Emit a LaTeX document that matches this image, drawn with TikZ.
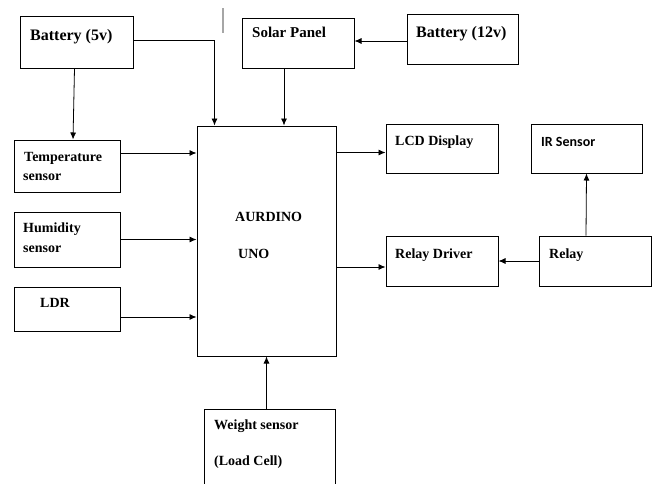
\documentclass[tikz,border=0pt]{standalone}
\usepackage{fontspec}
\setmainfont{Liberation Serif}
\newfontfamily\irfont{Carlito}
\usetikzlibrary{arrows.meta}

\begin{document}
\begin{tikzpicture}[x=1pt,y=-1pt]
  \tikzset{
    blk/.style={draw,line width=1pt,inner sep=0pt},
    lbl/.style={anchor=base west,inner sep=0pt,font=\bfseries\fontsize{14}{16}\selectfont},
    big/.style={lbl,font=\bfseries\fontsize{16}{18}\selectfont},
    arr/.style={line width=0.8pt,-{Latex[length=7pt,width=6pt]}}}
  % \blk{name}{x1}{y1}{x2}{y2}
  \newcommand{\blk}[5]{%
    \pgfmathsetmacro{\bw}{#4-#2}
    \pgfmathsetmacro{\bh}{#5-#3}
    \node[blk,minimum width=\bw pt,minimum height=\bh pt] (#1) at ({(#2+#4)/2},{(#3+#5)/2}) {};}

  \clip (0,0) rectangle (655,483);

  % the blocks
  \foreach \n/\xa/\ya/\xb/\yb in {bat5/20/16/133/68,solar/242/18/354/68,bat12/407/14/518/64,
      temp/14/140/120/192,hum/14/212/120/267,ldr/14/287/120/331,ard/197/126/336/356,
      lcd/386/124/498/173,ir/531/124/642/173,rd/386/236/498/286,relay/539/236/651/286,
      wt/204/409/335/500}{
    \blk{\n}{\xa}{\ya}{\xb}{\yb}}

  % the texts
  \node[big] (bat5-t) at (30,40) {Battery (5v)};
  \node[lbl,font=\bfseries\fontsize{15}{17}\selectfont] (solar-t) at (252,37) {Solar Panel};
  \node[big] (bat12-t) at (416,37) {Battery (12v)};
  \node[lbl] (temp-t) at (24,161) {Temperature};
  \node[lbl] (temp-s) at (23,180) {sensor};
  \node[lbl] (hum-t) at (23,232) {Humidity};
  \node[lbl] (hum-s) at (23,252) {sensor};
  \node[lbl] (ldr-t) at (40,307) {LDR};
  \node[lbl] (ard-t) at (235,221) {AURDINO};
  \node[lbl] (ard-s) at (238,258) {UNO};
  \node[lbl] (lcd-t) at (395,145) {LCD Display};
  \node[lbl,font=\irfont\bfseries\fontsize{14}{16}\selectfont] (ir-t) at (541,146) {IR Sensor};
  \node[lbl] (rd-t) at (395,258) {Relay Driver};
  \node[lbl] (relay-t) at (549,258) {Relay};
  \node[lbl] (wt-t) at (214,429) {Weight sensor};
  \node[lbl] (wt-s) at (214,465) {(Load Cell)};

  \draw[gray!70,line width=1.2pt] (223,8) -- (223,33);

  % connections
  \draw[arr] ([yshift=2pt]bat5.east) -| ([xshift=18pt]ard.north west);
  \draw[arr] ([xshift=-2pt]bat5.south) -- ([xshift=6pt]temp.north);
  \draw[arr] ([xshift=-14pt]solar.south) -- ([xshift=-14pt]solar.south |- ard.north);
  \draw[arr] ([yshift=-2pt]bat12.west) -- ([yshift=-2pt]bat12.west -| solar.east);
  \draw[arr] ([yshift=13pt]temp.east) -- ([yshift=13pt]temp.east -| ard.west);
  \draw[arr] (hum.east) -- (hum.east -| ard.west);
  \draw[arr] ([yshift=-8pt]ldr.east) -- ([yshift=-8pt]ldr.east -| ard.west);
  \draw[arr] ([yshift=-4pt]lcd.west -| ard.east) -- ([yshift=-4pt]lcd.west);
  \draw[arr] ([yshift=-6pt]rd.west -| ard.east) -- ([yshift=-6pt]rd.west);
  \draw[arr] (relay.west) -- (relay.west -| rd.east);
  \draw[arr] ([xshift=-9pt]relay.north) -- (ir.south);
  \draw[arr] (wt.north -| ard.south) -- (ard.south);
\end{tikzpicture}
\end{document}
